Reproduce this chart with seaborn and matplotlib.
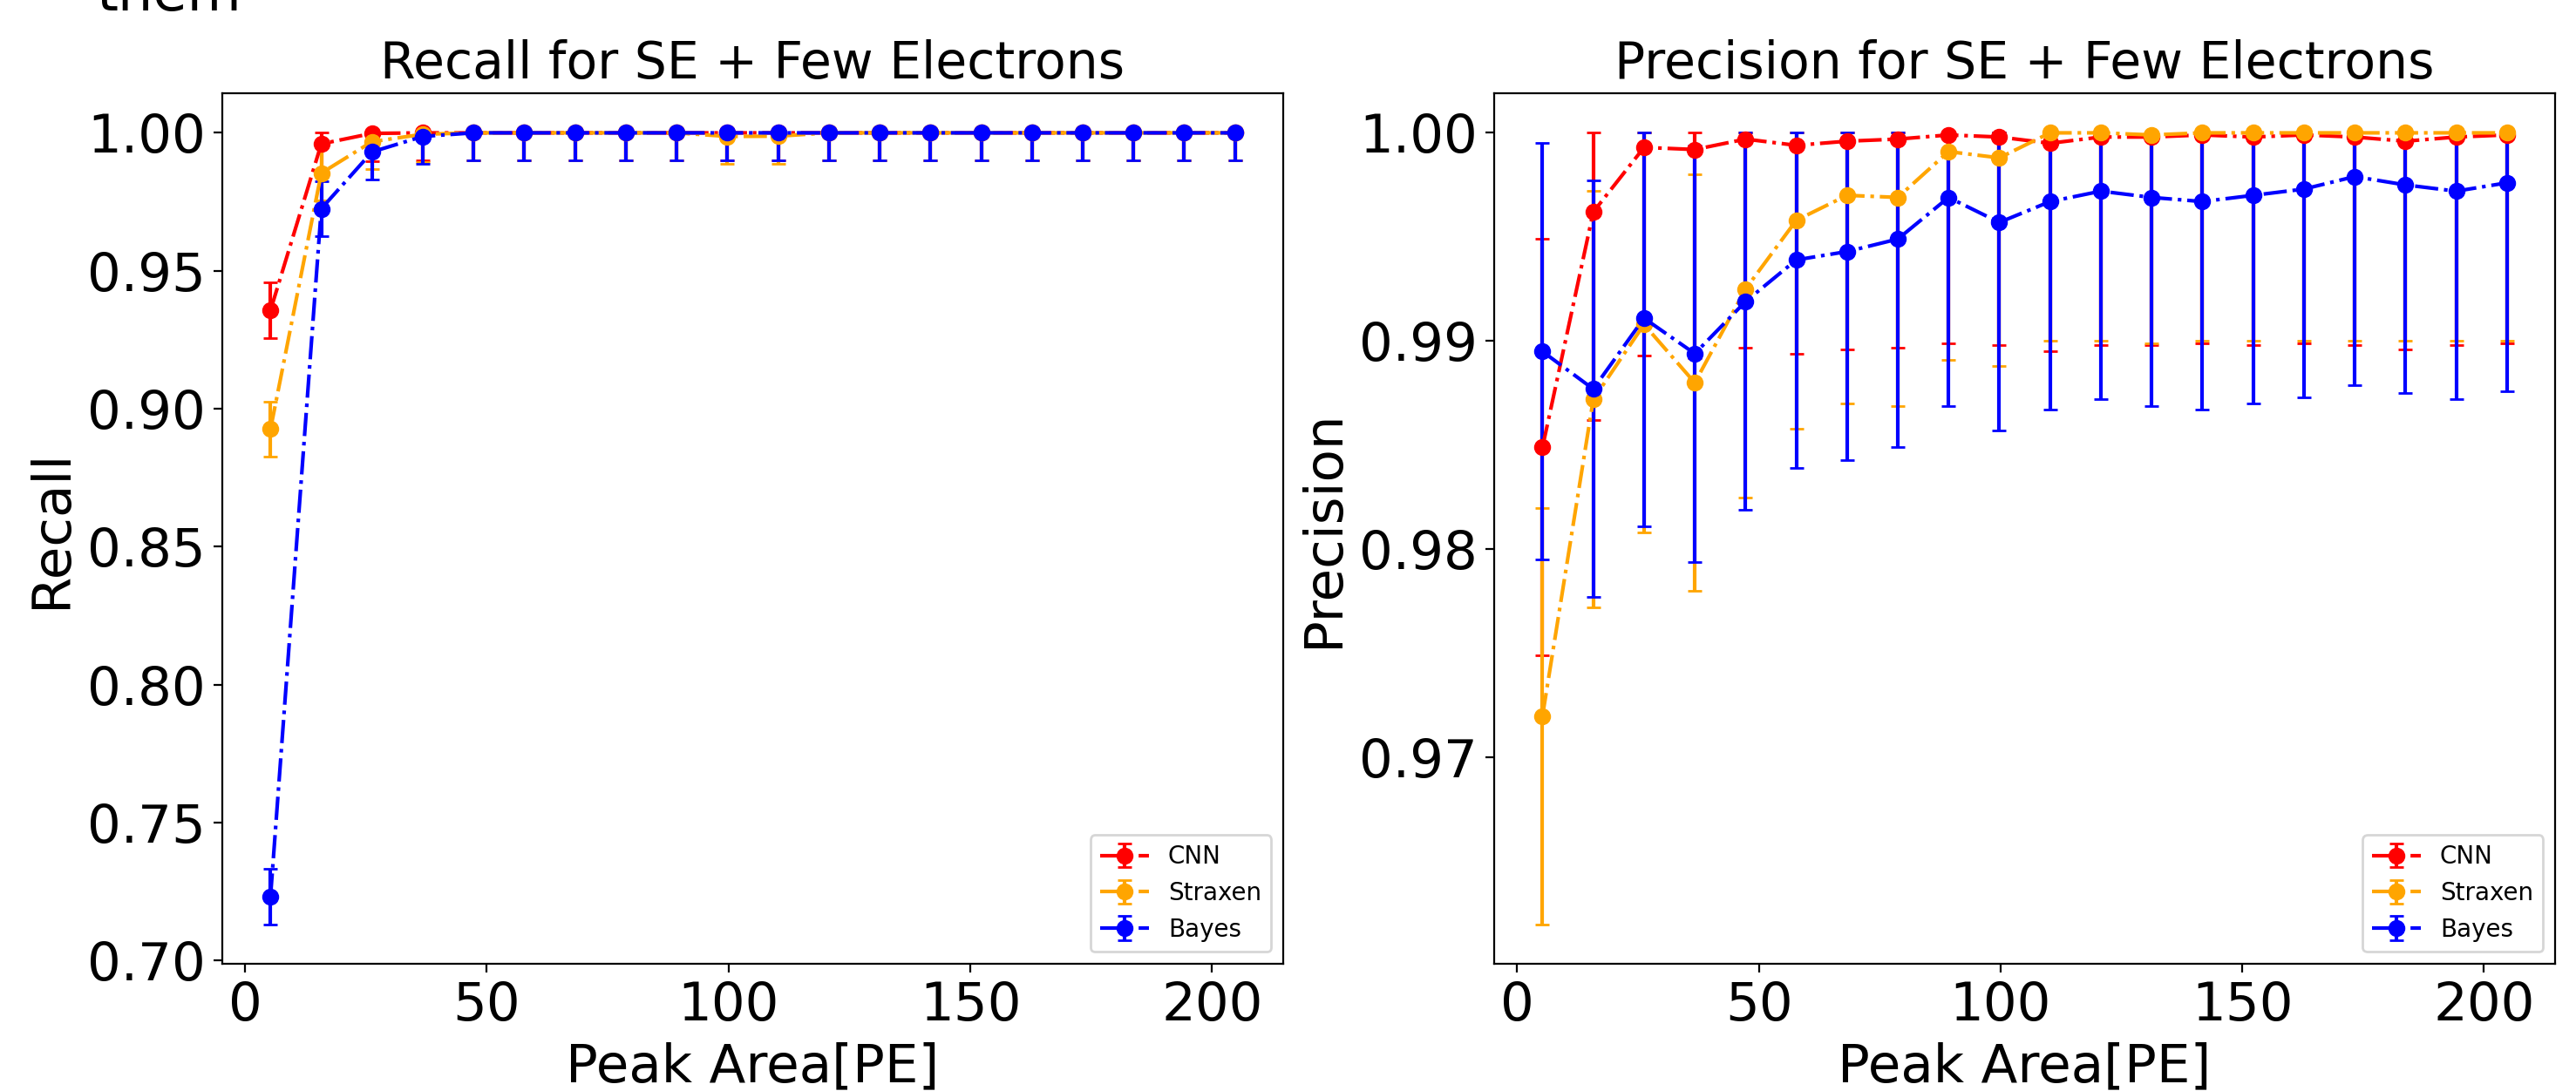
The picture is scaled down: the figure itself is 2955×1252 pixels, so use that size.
import numpy as np
import matplotlib
matplotlib.use('Agg')
import matplotlib.pyplot as plt
import seaborn as sns

# bin centres of peak area [PE]
peak_area = [5.25, 15.75, 26.25, 36.75, 47.25, 57.75, 68.25, 78.75, 89.25, 99.75,
             110.25, 120.75, 131.25, 141.75, 152.25, 162.75, 173.25, 183.75, 194.25, 204.75]

recall_cnn = [0.9357, 0.9960, 0.9998, 1.0, 1.0, 1.0, 1.0, 1.0, 1.0, 1.0,
              1.0, 1.0, 1.0, 1.0, 1.0, 1.0, 1.0, 1.0, 1.0, 1.0]
recall_straxen = [0.8926, 0.9854, 0.9968, 0.9995, 1.0, 1.0, 1.0, 1.0, 1.0, 0.9987,
                  0.9988, 1.0, 1.0, 1.0, 1.0, 1.0, 1.0, 1.0, 1.0, 1.0]
recall_bayes = [0.7231, 0.9725, 0.9931, 0.9987, 1.0, 1.0, 1.0, 1.0, 1.0, 1.0,
                1.0, 1.0, 1.0, 1.0, 1.0, 1.0, 1.0, 1.0, 1.0, 1.0]

prec_cnn = [0.9849, 0.9962, 0.9993, 0.9992, 0.9997, 0.9994, 0.9996, 0.9997, 0.9999, 0.9998,
            0.9995, 0.9998, 0.9998, 0.9999, 0.9998, 0.9999, 0.9998, 0.9996, 0.9998, 0.9999]
prec_straxen = [0.9720, 0.9872, 0.9908, 0.9880, 0.9925, 0.9958, 0.9970, 0.9969, 0.9991, 0.9988,
                1.0, 1.0, 0.9999, 1.0, 1.0, 1.0, 1.0, 1.0, 1.0, 1.0]
prec_bayes = [0.9895, 0.9877, 0.9911, 0.9894, 0.9919, 0.9939, 0.9943, 0.9949, 0.9969, 0.9957,
              0.9967, 0.9972, 0.9969, 0.9967, 0.9970, 0.9973, 0.9979, 0.9975, 0.9972, 0.9976]

err = 0.01  # error half width, clipped at 1

names = ['CNN', 'Straxen', 'Bayes']
colors = ['red', 'orange', 'blue']

sns.set_style('ticks', {'axes.edgecolor': 'black', 'text.color': 'black',
                        'xtick.color': 'black', 'ytick.color': 'black',
                        'axes.labelcolor': 'black'})
plt.rcParams['font.family'] = ['DejaVu Sans']
plt.rcParams['xtick.major.size'] = 3.5
plt.rcParams['ytick.major.size'] = 3.5
plt.rcParams['lines.solid_capstyle'] = 'projecting'

fig, axes = plt.subplots(1, 2, figsize=(14.775, 6.26), dpi=200)
fig.subplots_adjust(left=0.0863, right=0.9919, bottom=0.1166, top=0.9145, wspace=0.199)

panels = [
    (axes[0], [recall_cnn, recall_straxen, recall_bayes], 'Recall', 'Recall for SE + Few Electrons'),
    (axes[1], [prec_cnn, prec_straxen, prec_bayes], 'Precision', 'Precision for SE + Few Electrons'),
]

for ax, series, ylab, title in panels:
    for vals, name, c in zip(series, names, colors):
        v = np.array(vals)
        lo = np.full(len(v), err)
        hi = np.minimum(err, 1 - v)
        ax.errorbar(peak_area, v, yerr=[lo, hi], fmt='o-.', color=c,
                    capsize=3, label=name)
    ax.set_title(title, fontsize=21)
    ax.set_xlabel('Peak Area[PE]', fontsize=22)
    ax.set_ylabel(ylab, fontsize=22)
    ax.tick_params(labelsize=22)
    ax.set_xticks([0, 50, 100, 150, 200])
    ax.legend(loc='lower right', fontsize=10)

# leftover text fragment from the page above
fig.text(110 / 2955, 1 - 12 / 1252, 'them', fontsize=23, va='baseline', ha='left')

fig.savefig('out.png', dpi=200)
